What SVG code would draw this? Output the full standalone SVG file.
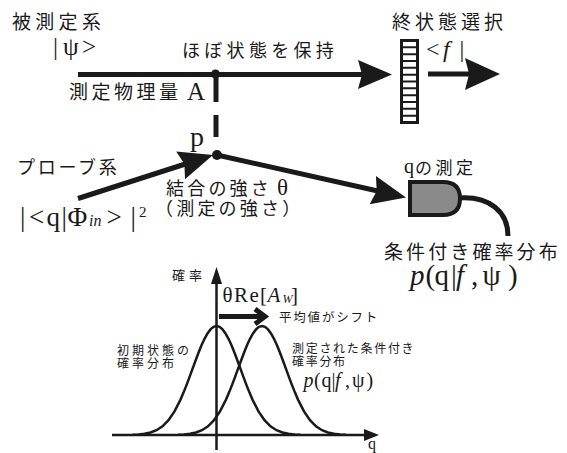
<svg xmlns="http://www.w3.org/2000/svg" xmlns:xlink="http://www.w3.org/1999/xlink" width="567" height="453" viewBox="0 0 567 453">
<style>
.jp{font-family:"Noto Sans CJK JP","Noto Sans CJK SC",sans-serif;fill:#1a1a1a}
.se{font-family:"Liberation Serif",serif;fill:#1a1a1a}
.it{font-style:italic}
.ln{stroke:#1a1a1a;fill:none;stroke-width:5}
.ax{stroke:#1a1a1a;fill:none;stroke-width:2.5}
.hd{fill:#1a1a1a}
</style>
<defs>
<path id="ah" d="M0,0 L-34,-14.5 L-30,0 L-34,14.5 Z"/>
<path id="gauss" d="M-84,434.8 L-78,434.45 L-72,433.8 L-66,432.5 L-60,430.2 L-54,426.3 L-48,420.25 L-42,411.4 L-36,399.6 L-33,392.6 L-30,385.1 L-27,377.1 L-24,368.9 L-21,360.7 L-18,352.7 L-15,345.3 L-12,338.8 L-9,333.4 L-6,329.4 L-3,326.85 L0,326 L3,326.85 L6,329.4 L9,333.4 L12,338.8 L15,345.3 L18,352.7 L21,360.7 L24,368.9 L27,377.1 L30,385.1 L33,392.6 L36,399.6 L42,411.4 L48,420.25 L54,426.3 L60,430.2 L66,432.5 L72,433.8 L78,434.45 L84,434.8"/>
</defs>
<rect width="567" height="453" fill="#ffffff"/>

<g id="connectors">
  <path class="ln" d="M78,74.5 H364"/>
  <use href="#ah" class="hd" transform="translate(392,74.5)"/>
  <path class="ln" d="M428,74 H472"/>
  <use href="#ah" class="hd" transform="translate(500,74) scale(1.03,1.1)"/>
  <path class="ln" stroke-width="4.5" d="M216,74 V102 M216,115 V137"/>
  <circle cx="215.5" cy="74" r="4.5" class="hd"/>
  <circle cx="217" cy="155" r="5" class="hd"/>
  <path class="ln" d="M78,198.5 L190,162.5"/>
  <use href="#ah" class="hd" transform="translate(213,155) rotate(-17.7)"/>
  <path class="ln" d="M217,155 L380,191.5"/>
  <use href="#ah" class="hd" transform="translate(406,197.5) rotate(12.5)"/>
  <path class="ln" stroke-width="4" d="M459,198 C490,196 508,212 508,236"/>
</g>

<g id="system">
  <text class="jp" x="12" y="29" font-size="19" letter-spacing="4.3">被測定系</text>
  <text class="se" y="55" font-size="25"><tspan x="53">|</tspan><tspan x="63">ψ</tspan><tspan x="82">&gt;</tspan></text>
  <text class="jp" x="182" y="57" font-size="18" letter-spacing="4.3">ほぼ状態を保持</text>
  <text class="jp" x="69" y="99" font-size="19" letter-spacing="3.5">測定物理量</text>
  <text class="se" x="187" y="100" font-size="25">A</text>
</g>

<g id="selector">
  <text class="jp" x="392" y="29" font-size="19" letter-spacing="4">終状態選択</text>
  <rect x="401.5" y="40.5" width="16" height="82" fill="#ffffff" stroke="#1a1a1a" stroke-width="3"/>
  <path stroke="#1a1a1a" stroke-width="2" d="M401.5,47.33H417.5M401.5,54.17H417.5M401.5,61H417.5M401.5,67.83H417.5M401.5,74.67H417.5M401.5,81.5H417.5M401.5,88.33H417.5M401.5,95.17H417.5M401.5,102H417.5M401.5,108.83H417.5M401.5,115.67H417.5"/>
  <text class="se" y="57" font-size="24"><tspan x="426">&lt;</tspan><tspan x="443" class="it">f</tspan><tspan x="459.5">|</tspan></text>
</g>

<g id="coupling">
  <text class="se" x="190" y="146" font-size="28">p</text>
  <text class="jp" x="166" y="195" font-size="18" letter-spacing="3.2">結合の強さ</text>
  <text class="se" x="277" y="195" font-size="23">θ</text>
  <text class="jp" x="155" y="215" font-size="18" letter-spacing="3.2">（測定の強さ）</text>
</g>

<g id="probe">
  <text class="jp" x="17" y="174" font-size="18" letter-spacing="2.7">プローブ系</text>
  <text class="se" y="226" font-size="27"><tspan x="20">|</tspan><tspan x="29">&lt;</tspan><tspan x="46.5">q</tspan><tspan x="61.5">|</tspan><tspan x="67.5">Φ</tspan><tspan x="89" font-size="16" class="it">in</tspan><tspan x="106.5">&gt;</tspan><tspan x="130.5">|</tspan><tspan x="139" y="217" font-size="15">2</tspan></text>
</g>

<g id="detector">
  <text class="se" x="404" y="173" font-size="20">q</text>
  <text class="jp" x="415" y="174" font-size="17" letter-spacing="3.5">の測定</text>
  <path d="M410,182 H443 Q460,182 460,198.5 Q460,215 443,215 H410 Z" fill="#8a8a8a" stroke="#1a1a1a" stroke-width="4"/>
  <text class="jp" x="384" y="259" font-size="19" letter-spacing="3.1">条件付き確率分布</text>
  <text class="se" y="285" font-size="29"><tspan x="410" class="it">p</tspan><tspan x="425.5">(</tspan><tspan x="434.5">q</tspan><tspan x="451">|</tspan><tspan x="456" class="it">f</tspan><tspan x="471">,</tspan><tspan x="482.5">ψ</tspan><tspan x="508">)</tspan></text>
</g>

<g id="graph">
  <path class="ax" d="M216.5,450 V282 M112,435 H366"/>
  <path class="hd" d="M216.5,267 L211,284 L222,284 Z M379,435 L364,429 L364,441 Z"/>
  <use href="#gauss" class="ax" transform="translate(216.5,0)"/>
  <use href="#gauss" class="ax" transform="translate(262,0)"/>
  <path class="ln" stroke-width="4" d="M219,316.5 H263"/>
  <path class="ln" stroke-width="4" d="M255,309 L265,316.5 L255,324"/>
  <text class="jp" x="172" y="280" font-size="13" letter-spacing="4">確率</text>
  <text class="se" y="301.5" font-size="21"><tspan x="222.5">θ</tspan><tspan x="234">R</tspan><tspan x="249.5">e</tspan><tspan x="260">[</tspan><tspan x="267.5" class="it">A</tspan><tspan x="282.5" y="303" font-size="12" class="it">W</tspan><tspan x="291" y="301.5">]</tspan></text>
  <text class="jp" x="279" y="322" font-size="12.5" letter-spacing="1.8">平均値がシフト</text>
  <text class="jp" x="117" y="355" font-size="12" letter-spacing="3">初期状態の</text>
  <text class="jp" x="117" y="367.5" font-size="12" letter-spacing="3">確率分布</text>
  <text class="jp" x="292" y="353" font-size="12" letter-spacing="1.7">測定された条件付き</text>
  <text class="jp" x="292" y="365.5" font-size="12" letter-spacing="1.7">確率分布</text>
  <text class="se" y="387" font-size="20"><tspan x="303.5" class="it">p</tspan><tspan x="314">(</tspan><tspan x="321.5">q</tspan><tspan x="331.5">|</tspan><tspan x="335" class="it">f</tspan><tspan x="345">,</tspan><tspan x="352">ψ</tspan><tspan x="366.5">)</tspan></text>
  <text class="se" x="368" y="448.5" font-size="16">q</text>
</g>
</svg>
